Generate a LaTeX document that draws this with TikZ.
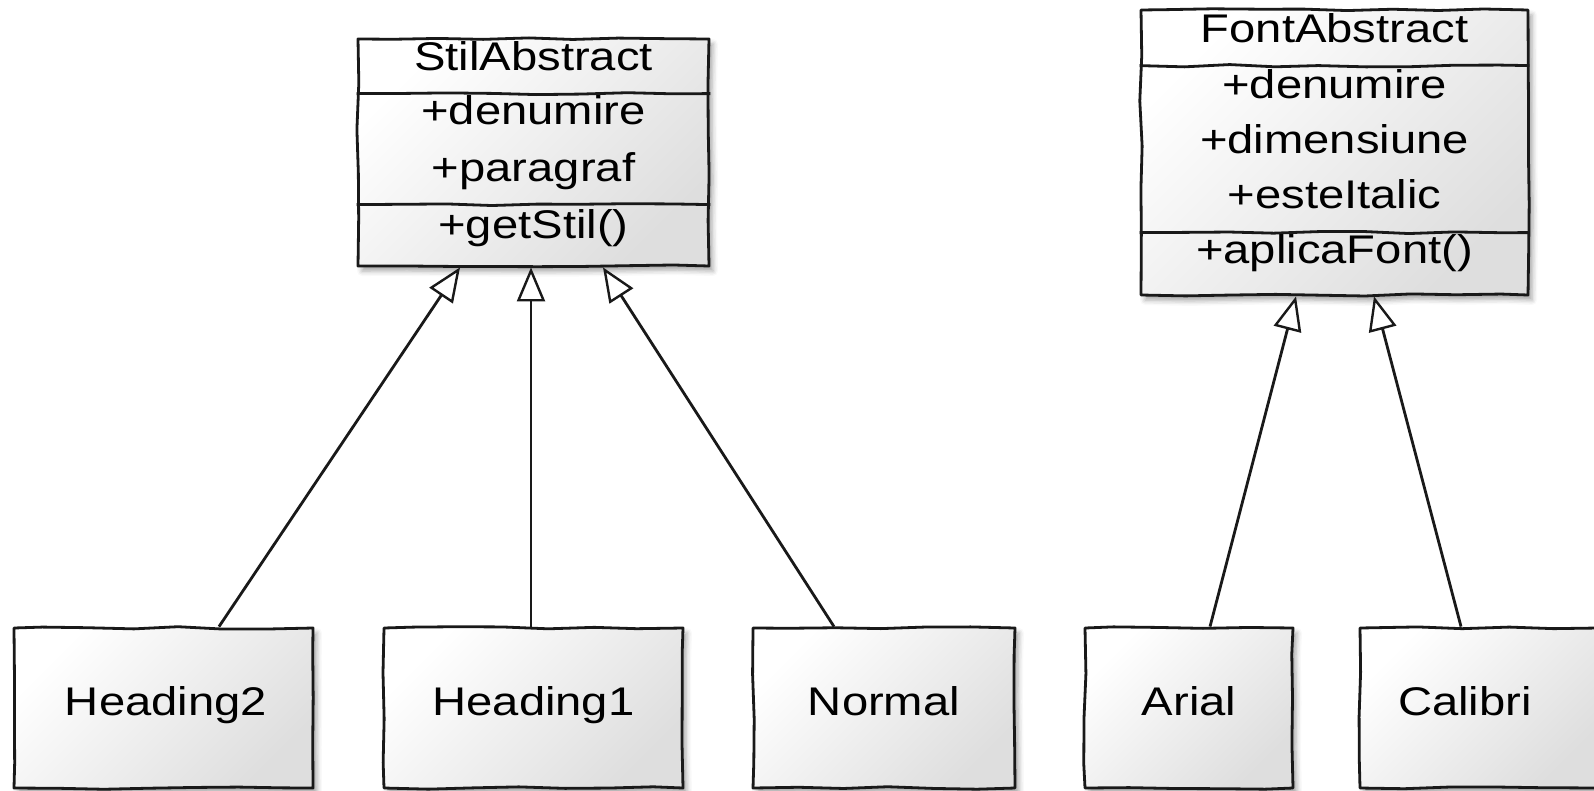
\documentclass[tikz,border=0pt]{standalone}
\usepackage{fontspec}
\setmainfont[FakeStretch=1.18]{Liberation Sans}
\usetikzlibrary{arrows.meta,shadows.blur,decorations.pathmorphing}

\begin{document}
\begin{tikzpicture}[x=1pt,y=-1pt,
  sketch/.style={draw=black!90, line width=2.8pt, line join=round,
    decorate, decoration={random steps, segment length=45pt, amplitude=1.3pt}},
  umlbox/.style={sketch, rectangle, inner sep=0pt,
    top color=white, bottom color=black!13, shading angle=45,
    blur shadow={shadow xshift=4pt, shadow yshift=-5pt,
      shadow blur radius=5pt, shadow opacity=35}},
  txt/.style={font=\fontsize{40}{48}\selectfont, inner sep=0pt, anchor=base},
  gen/.style={line width=2.8pt, draw=black!90,
    -{Triangle[length=34pt, width=28pt, fill=white, line width=2.4pt]}}
]
\pgfmathsetseed{11}
\path[use as bounding box] (0,0) rectangle (1594,790);

% abstract style class
\node[umlbox, minimum width=351pt, minimum height=227pt] (stil) at (533.5,152.5) {};
\draw[sketch] ([yshift=-56pt]stil.north west) -- ([yshift=-56pt]stil.north east);
\draw[sketch] ([yshift=-167pt]stil.north west) -- ([yshift=-167pt]stil.north east);
\node[txt] (stilname) at (533.5,70) {StilAbstract};
\node[txt] (stila1) at (533.5,124) {+denumire};
\node[txt] (stila2) at (533.5,181) {+paragraf};
\node[txt] (stilm1) at (533.5,238) {+getStil()};

% abstract font class
\node[umlbox, minimum width=387pt, minimum height=285pt] (font) at (1334.5,152.5) {};
\draw[sketch] ([yshift=-57pt]font.north west) -- ([yshift=-57pt]font.north east);
\draw[sketch] ([yshift=-224pt]font.north west) -- ([yshift=-224pt]font.north east);
\node[txt] (fontname) at (1334.5,42) {FontAbstract};
\node[txt] (fonta1) at (1334.5,98) {+denumire};
\node[txt] (fonta2) at (1334.5,153) {+dimensiune};
\node[txt] (fonta3) at (1334.5,208) {+esteItalic};
\node[txt] (fontm1) at (1334.5,263) {+aplicaFont()};

% concrete classes
\node[umlbox, minimum width=299pt, minimum height=160pt] (h2) at (163.5,708) {};
\node[umlbox, minimum width=299pt, minimum height=160pt] (h1) at (533.5,708) {};
\node[umlbox, minimum width=262pt, minimum height=160pt] (normal) at (884,708) {};
\node[umlbox, minimum width=208pt, minimum height=160pt] (arial) at (1189,708) {};
\node[umlbox, minimum width=238pt, minimum height=160pt] (calibri) at (1479,708) {};
\node[txt] (h2name) at (166,715) {Heading2};
\node[txt] (h1name) at (533.5,715) {Heading1};
\node[txt] (normalname) at (884,715) {Normal};
\node[txt] (arialname) at (1189,715) {Arial};
\node[txt] (calibriname) at (1465,715) {Calibri};

% generalizations
\draw[gen] ([xshift=55.5pt]h2.north) -- ([xshift=-73.5pt]stil.south);
\draw[gen] ([xshift=-2.5pt]h1.north) -- ([xshift=-2.5pt]stil.south);
\draw[gen] ([xshift=-50pt]normal.north) -- ([xshift=69.5pt]stil.south);
\draw[gen] ([xshift=21pt]arial.north) -- ([xshift=-38.5pt]font.south);
\draw[gen] ([xshift=-18pt]calibri.north) -- ([xshift=39.5pt]font.south);
\end{tikzpicture}
\end{document}
